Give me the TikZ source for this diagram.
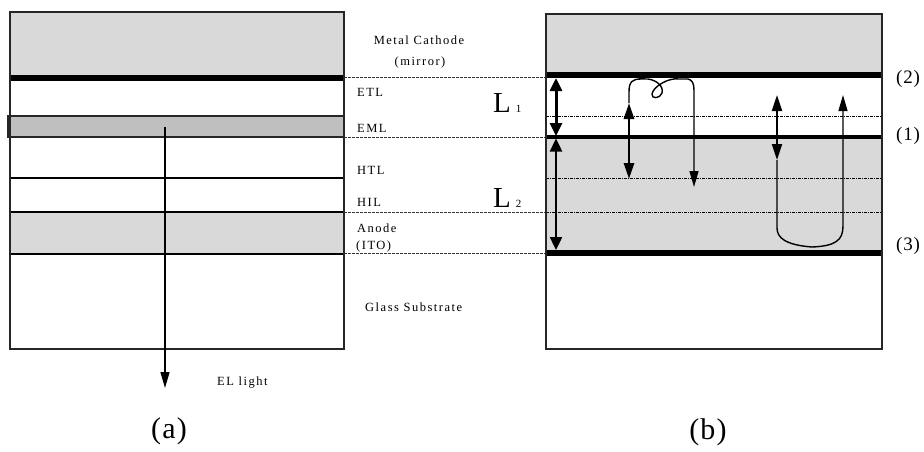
\documentclass[tikz,border=0pt]{standalone}
\usepackage{fontspec}
\setmainfont{Liberation Serif}
\newfontfamily\lblfont[LetterSpace=12]{Liberation Serif}
\newfontfamily\capfont[LetterSpace=4]{Liberation Serif}
\usetikzlibrary{arrows.meta}
\definecolor{lgrey}{HTML}{D9D9D9}
\definecolor{mgrey}{HTML}{BFBFBF}
\tikzset{
  lbl/.style={inner sep=0pt, font=\lblfont\fontsize{12.5}{14}\selectfont},
  caplbl/.style={inner sep=0pt, font=\capfont\fontsize{30}{32}\selectfont},
  numlbl/.style={inner sep=0pt, font=\capfont\fontsize{19}{21}\selectfont},
  frame/.style={line width=1.2pt, draw=black!85},
  thickline/.style={line width=6pt},
  layerline/.style={line width=1.5pt},
  midline/.style={line width=0.8pt, dash pattern=on 3pt off 1pt, draw=black!80},
  dotline/.style={line width=0.7pt, dash pattern=on 3pt off 1pt on 1pt off 1pt},
  dblarrow/.style={line width=3pt, {Triangle[width=12pt,length=13pt]}-{Triangle[width=12pt,length=13pt]}},
  path/.style={line width=1.4pt, line join=round},
  tipone/.style={-{Triangle[width=9pt,length=16pt]}},
  raydbl/.style={{Triangle[width=10pt,length=16pt]}-{Triangle[width=10pt,length=16pt]}},
}
\begin{document}
\begin{tikzpicture}[x=1pt,y=-1pt]
\useasboundingbox (0,0) rectangle (924,451);
% ---------------- panel (a)
\fill[lgrey] (10,12) rectangle (344,77);
\fill[lgrey] (10,212) rectangle (344,254);
\draw[thickline] (10,77.5) -- (344,77.5);
\fill[white] (63,80.5) rectangle (88,116);
\draw[frame, fill=mgrey] (8,116) rectangle (344,137);
\draw[layerline] (10,178) -- (344,178);
\draw[layerline] (10,212) -- (344,212);
\draw[layerline] (10,254) -- (344,254);
\fill[white] (63,179) rectangle (88,211.2);
\draw[frame] (10,12) rectangle (344,349);
\coordinate (emsrc) at (165,127);
\coordinate (emout) at (165,388);
\draw[line width=1.2pt, -{Triangle[width=9pt,length=16pt]}] (emsrc) -- (emout);
\node[lbl, anchor=west] (ellight) at (217,383) {EL light};
\node[caplbl] (capa) at (169,431) {(a)};
% ---------------- middle labels and guide lines
\draw[midline] (344,77) -- (546,77);
\draw[midline] (344,137) -- (546,137);
\draw[midline] (344,212) -- (546,212);
\draw[midline] (344,253.5) -- (546,253.5);
\node[lbl] (cathode) at (419,40) {Metal Cathode};
\node[lbl] (mirror) at (420,62) {(mirror)};
\node[lbl, anchor=west] (etl) at (357,92) {ETL};
\node[lbl, anchor=west] (eml) at (357,128) {EML};
\node[lbl, anchor=west] (htl) at (357,170) {HTL};
\node[lbl, anchor=west] (hil) at (357,202) {HIL};
\node[lbl, anchor=west] (anode) at (357,228) {Anode};
\node[lbl, anchor=west] (ito) at (356,246) {(ITO)};
\node[lbl, anchor=west] (glass) at (365,307) {Glass Substrate};
\node[inner sep=0pt, anchor=base west, font=\fontsize{29}{30}\selectfont] (Lone) at (493,112) {L\,\fontsize{11}{11}\selectfont 1};
\node[inner sep=0pt, anchor=base west, font=\fontsize{29}{30}\selectfont] (Ltwo) at (493,207) {L\,\fontsize{11}{11}\selectfont 2};
% ---------------- panel (b)
\fill[lgrey] (546,14) rectangle (882,75);
\fill[lgrey] (546,137) rectangle (882,253);
\draw[dotline] (546,116) -- (882,116);
\draw[dotline] (546,178) -- (882,178);
\draw[dotline] (546,212) -- (882,212);
\draw[thickline] (546,75) -- (882,75);
\draw[line width=3.5pt] (546,137) -- (882,137);
\draw[thickline] (546,253) -- (882,253);
\draw[frame] (546,14) rectangle (882,349);
% L1 / L2 arrows
\coordinate (l1top) at (556,78);
\coordinate (l1bot) at (556,136);
\coordinate (l2top) at (556,138.5);
\coordinate (l2bot) at (556,250);
\draw[dblarrow] (l1top) -- (l1bot);
\draw[dblarrow, line width=2.4pt] (l2top) -- (l2bot);
% first ray with loop
\coordinate (ra1) at (629,103);
\coordinate (ra2) at (629,179);
\draw[line width=2.8pt, raydbl] (ra1) -- (ra2);
\coordinate (rb) at (694,187);
\draw[path, tipone] (ra1) -- (629,92) .. controls (629,82) and (632,79) .. (641,79)
  -- (648,79) .. controls (656,80) and (664,86) .. (662,93)
  .. controls (660,99) and (651,99) .. (652,94)
  .. controls (653,88) and (664,80) .. (674,79)
  -- (688,79) .. controls (692,80) and (694,83) .. (694,90) -- (rb);
\draw[line width=2pt] (639,78) -- (645,78);
\draw[line width=2pt] (674,78) -- (678,78);
% second ray with reflection at anode
\coordinate (rc1) at (777,95);
\coordinate (rc2) at (777,160);
\coordinate (rd) at (843,95);
\draw[line width=2.2pt, raydbl] (rc1) -- (rc2);
\draw[path, tipone] (rc2) -- (777,228) .. controls (777,238) and (786,245) .. (812,247)
  .. controls (836,246) and (843,240) .. (843,226) -- (rd);
% interface labels
\node[numlbl, anchor=west] (n2) at (896,79) {(2)};
\node[numlbl, anchor=west] (n1) at (896,136) {(1)};
\node[numlbl, anchor=west] (n3) at (896,246) {(3)};
\node[caplbl] (capb) at (708,432) {(b)};
\end{tikzpicture}
\end{document}
